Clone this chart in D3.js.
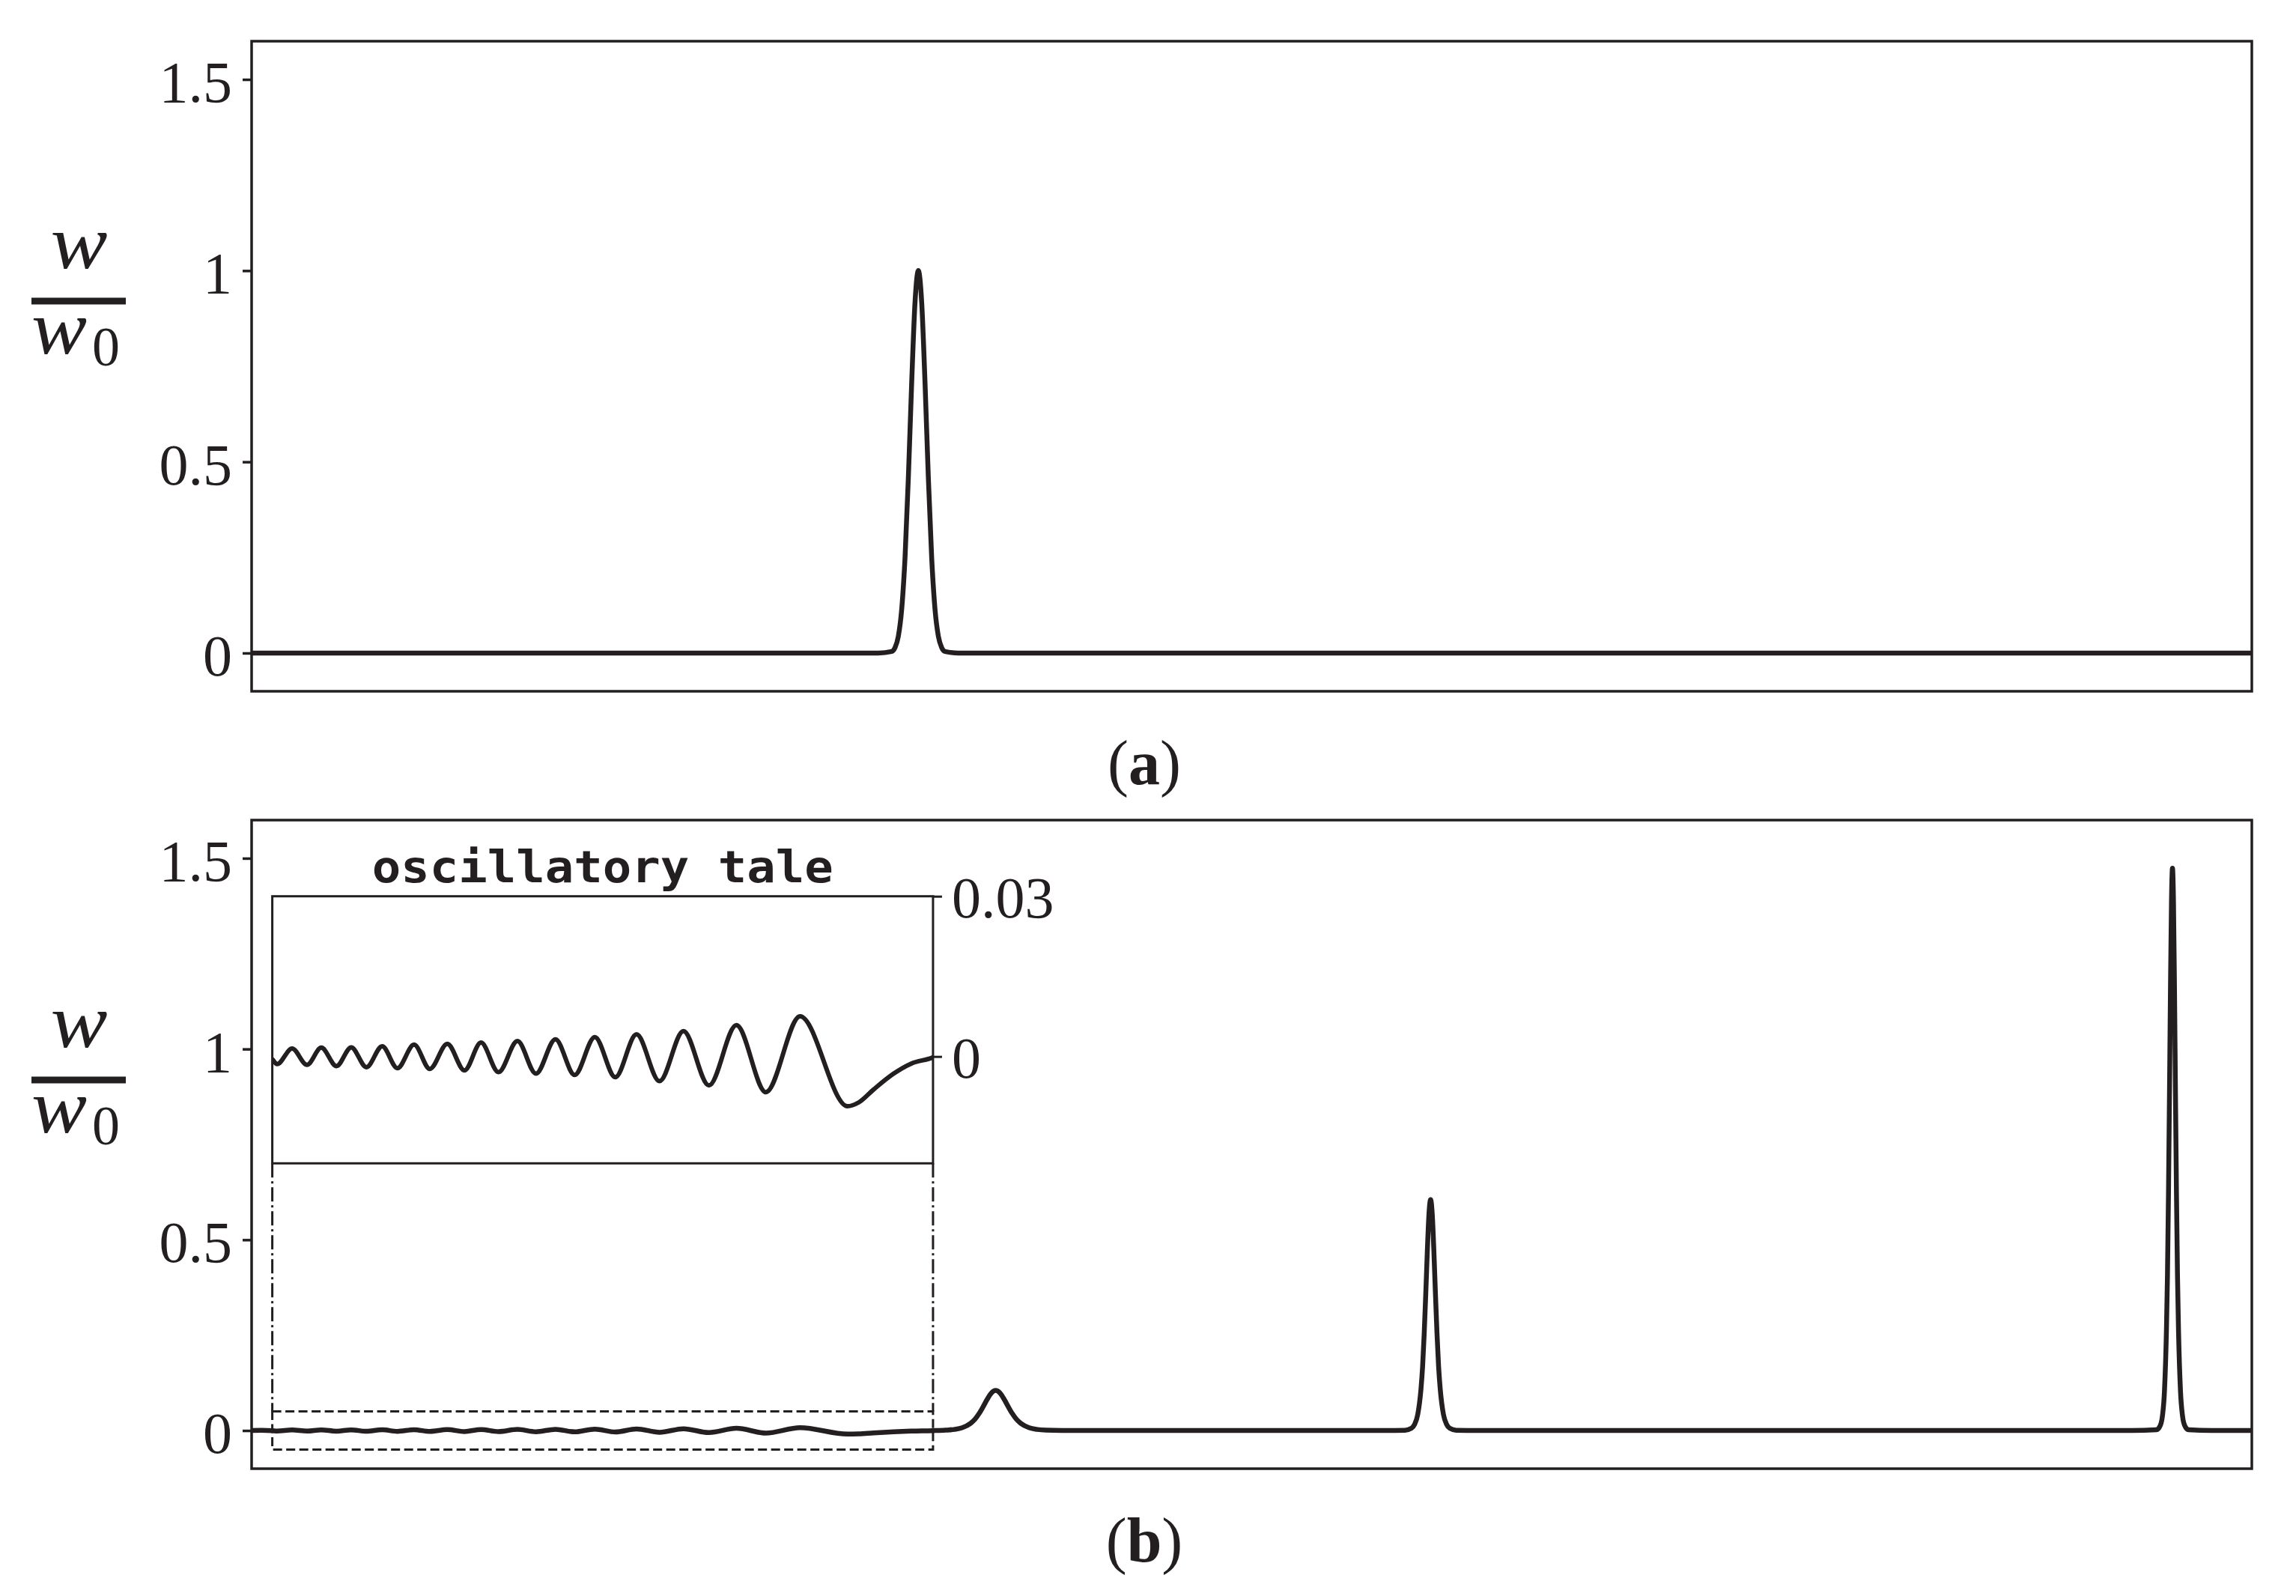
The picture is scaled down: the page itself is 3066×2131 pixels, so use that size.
<!DOCTYPE html>
<html><head><meta charset="utf-8">
<script src="https://cdn.jsdelivr.net/npm/d3@7"></script>
<style>body{margin:0;background:#fff}svg{display:block}</style>
</head><body><svg id="c"></svg>
<script>
// ---------- data ----------
const topX = [0, 94, 96, 96.5, 97, 97.5, 98, 98.5, 99, 99.5, 100, 100.5, 101, 101.5, 102, 102.5, 103, 103.5, 104, 106, 300];
const topY = [0, 0, 0.004, 0.014, 0.044, 0.114, 0.249, 0.458, 0.707, 0.917, 1.0, 0.917, 0.707, 0.458, 0.249, 0.114, 0.044, 0.014, 0.004, 0, 0];

const bottomX = [0, 1.5, 3.09, 3.82, 6.07, 8.31, 10.45, 12.73, 14.94, 17.22, 19.58, 21.87, 24.37, 26.73, 29.35, 31.93, 34.41, 37.03, 39.87, 42.65, 45.57, 48.45, 51.48, 54.55, 57.73, 61.18, 64.77, 68.59, 72.71, 77.13, 82.26, 89.37, 91.05, 93.3, 96.29, 98.92, 102.1,
  104.1, 105.35, 106.6, 107.85, 108.475, 109.1, 109.725, 110.35, 110.975, 111.6, 112.225, 112.85, 113.475, 114.1, 114.725, 115.35, 116.6, 117.85, 119.1, 121.6, 125,
  170, 172.99, 173.95, 174.43, 174.91, 175.39, 175.63, 175.87, 176.11, 176.35, 176.59, 176.83, 177.07, 177.31, 177.55, 177.79, 178.03, 178.27, 178.75, 179.23, 179.71, 180.67, 184,
  282, 285.7, 286.3, 286.6, 286.9, 287.2, 287.35, 287.5, 287.65, 287.8, 287.95, 288.1, 288.25, 288.4, 288.55, 288.7, 288.85, 289.0, 289.3, 289.6, 289.9, 290.5, 294, 300];
const bottomY = [0, 0.0004, -0.0005, -0.00143, 0.00148, -0.00157, 0.00166, -0.0018, 0.00171, -0.002, 0.0019, -0.00218, 0.00222, -0.00232, 0.00236, -0.0026, 0.0026, -0.00293, 0.00288, -0.00321, 0.00321, -0.00345, 0.00363, -0.00387, 0.00415, -0.00462, 0.00476, -0.00542, 0.00588, -0.00668, 0.00752, -0.00931, -0.0086, -0.00616, -0.00321, -0.00134, -0.0002,
  0.001, 0.0028, 0.0074, 0.019, 0.0291, 0.0441, 0.0627, 0.0825, 0.0987, 0.105, 0.0987, 0.0825, 0.0627, 0.0441, 0.0291, 0.019, 0.0074, 0.0028, 0.001, 0.00014, 0,
  0, 0.0008, 0.006, 0.0161, 0.0428, 0.1095, 0.1676, 0.254, 0.361, 0.4755, 0.569, 0.605, 0.569, 0.4755, 0.361, 0.254, 0.1676, 0.1095, 0.0428, 0.0161, 0.006, 0.0008, 0,
  0, 0.002, 0.0145, 0.0392, 0.104, 0.267, 0.408, 0.619, 0.88, 1.159, 1.386, 1.474, 1.386, 1.159, 0.88, 0.619, 0.408, 0.267, 0.104, 0.0392, 0.0145, 0.002, 0, 0];

const xDomain = [0, 300];
const yDomain = [-0.1, 1.6];
const yTickValues = [0, 0.5, 1, 1.5];
const yTickLabels = ["0", "0.5", "1", "1.5"];
const insetXDomain = [3.1, 102.2];
const insetYDomain = [-0.02, 0.03];
const insetTickValues = [0, 0.03];
const insetTickLabels = ["0", "0.03"];
const zoomBoxY = [-0.05, 0.05];
const insetTitle = "oscillatory tale";
const captionLetters = ["a", "b"];

// ---------- drawing ----------
const W = 3066, H = 2131;
const INK = "#231f20";
const svg = d3.select("#c").attr("width", W).attr("height", H);
svg.append("rect").attr("width", W).attr("height", H).attr("fill", "#fff");

const panels = [
  {top: 55, bottom: 923, xs: topX, ys: topY, barY: 402, capY: 1047},
  {top: 1095, bottom: 1961, xs: bottomX, ys: bottomY, barY: 1442, capY: 2085}
];
const L = 336, R = 3007;
const x = d3.scaleLinear().domain(xDomain).range([L, R]);

panels.forEach((p, i) => {
  const y = d3.scaleLinear().domain(yDomain).range([p.bottom, p.top]);
  const g = svg.append("g");
  const clipId = "clip" + i;
  svg.append("clipPath").attr("id", clipId).append("rect")
    .attr("x", L).attr("y", p.top).attr("width", R - L).attr("height", p.bottom - p.top);

  const pts = p.xs.map((v, k) => [v, p.ys[k]]);
  const line = d3.line().x(d => x(d[0])).y(d => y(d[1])).curve(d3.curveMonotoneX);
  g.append("path").attr("d", line(pts)).attr("clip-path", `url(#${clipId})`)
    .attr("fill", "none").attr("stroke", INK).attr("stroke-width", 6.5)
    .attr("stroke-linejoin", "round").attr("stroke-linecap", "round");

  // axis
  const ax = g.append("g").attr("transform", `translate(${L},0)`)
    .call(d3.axisLeft(y).tickValues(yTickValues).tickFormat((d, k) => yTickLabels[k]).tickSize(12).tickPadding(14));
  ax.select(".domain").remove();
  ax.selectAll("line").attr("stroke", INK).attr("stroke-width", 3.5);
  ax.selectAll("text").attr("fill", INK).attr("font-family", "Liberation Serif, serif")
    .attr("font-size", 78).attr("dy", "0.38em");

  // frame
  g.append("rect").attr("x", L).attr("y", p.top).attr("width", R - L).attr("height", p.bottom - p.top)
    .attr("fill", "none").attr("stroke", INK).attr("stroke-width", 3.5);

  // y label  w / w0
  const lab = g.append("g").attr("font-family", "Liberation Serif, serif").attr("fill", INK);
  lab.append("rect").attr("x", 42).attr("y", p.barY - 4.5).attr("width", 126).attr("height", 9).attr("fill", INK);
  lab.append("text").attr("x", 105.5).attr("y", p.barY - 44).attr("text-anchor", "middle")
    .attr("font-style", "italic").attr("font-size", 102)
    .attr("textLength", 76).attr("lengthAdjust", "spacingAndGlyphs").text("w");
  lab.append("text").attr("x", 42).attr("y", p.barY + 70)
    .attr("font-style", "italic").attr("font-size", 102)
    .attr("textLength", 74).attr("lengthAdjust", "spacingAndGlyphs").text("w");
  lab.append("text").attr("x", 123).attr("y", p.barY + 86)
    .attr("font-size", 74).text("0");

  // caption
  const cap = g.append("text").attr("x", 1528).attr("y", p.capY).attr("text-anchor", "middle")
    .attr("font-family", "Liberation Serif, serif").attr("font-size", 84).attr("fill", INK);
  cap.append("tspan").text("(");
  cap.append("tspan").attr("font-weight", "bold").text(captionLetters[i]);
  cap.append("tspan").text(")");

  if (i === 1) {
    // inset
    const ix0 = x(insetXDomain[0]), ix1 = x(insetXDomain[1]);
    const iy = d3.scaleLinear().domain(insetYDomain).range([1553.3, 1196.7]);
    const ixs = d3.scaleLinear().domain(insetXDomain).range([ix0, ix1]);
    const ig = svg.append("g");

    // zoom box in main axes
    const zb0 = y(zoomBoxY[1]), zb1 = y(zoomBoxY[0]);
    ig.append("rect").attr("x", ix0).attr("y", zb0).attr("width", ix1 - ix0).attr("height", zb1 - zb0)
      .attr("fill", "none").attr("stroke", INK).attr("stroke-width", 3).attr("stroke-dasharray", "12,5.5");
    [ix0, ix1].forEach(xx => {
      ig.append("line").attr("x1", xx).attr("x2", xx).attr("y1", iy.range()[0]).attr("y2", zb0)
        .attr("stroke", INK).attr("stroke-width", 3).attr("stroke-dasharray", "19,5,3,5");
    });

    ig.append("rect").attr("x", ix0).attr("y", 1196.7).attr("width", ix1 - ix0).attr("height", 1553.3 - 1196.7)
      .attr("fill", "#fff");
    svg.append("clipPath").attr("id", "clipInset").append("rect")
      .attr("x", ix0).attr("y", 1196.7).attr("width", ix1 - ix0).attr("height", 1553.3 - 1196.7);
    const iline = d3.line().x(d => ixs(d[0])).y(d => iy(d[1])).curve(d3.curveMonotoneX);
    ig.append("path").attr("d", iline(pts)).attr("clip-path", "url(#clipInset)")
      .attr("fill", "none").attr("stroke", INK).attr("stroke-width", 6)
      .attr("stroke-linejoin", "round").attr("stroke-linecap", "round");
    ig.append("rect").attr("x", ix0).attr("y", 1196.7).attr("width", ix1 - ix0).attr("height", 1553.3 - 1196.7)
      .attr("fill", "none").attr("stroke", INK).attr("stroke-width", 3);

    const iax = ig.append("g").attr("transform", `translate(${ix1},0)`)
      .call(d3.axisRight(iy).tickValues(insetTickValues).tickFormat((d, k) => insetTickLabels[k]).tickSize(12).tickPadding(13));
    iax.select(".domain").remove();
    iax.selectAll("line").attr("stroke", INK).attr("stroke-width", 3);
    iax.selectAll("text").attr("fill", INK).attr("font-family", "Liberation Serif, serif")
      .attr("font-size", 78).attr("dy", "0.36em");

    ig.append("text").attr("x", (ix0 + ix1) / 2).attr("y", 1178).attr("text-anchor", "middle")
      .attr("font-family", "DejaVu Sans Mono, monospace").attr("font-weight", "bold").attr("font-size", 58)
      .attr("textLength", 616).attr("lengthAdjust", "spacingAndGlyphs")
      .attr("fill", INK).text(insetTitle);
  }
});
</script></body></html>
